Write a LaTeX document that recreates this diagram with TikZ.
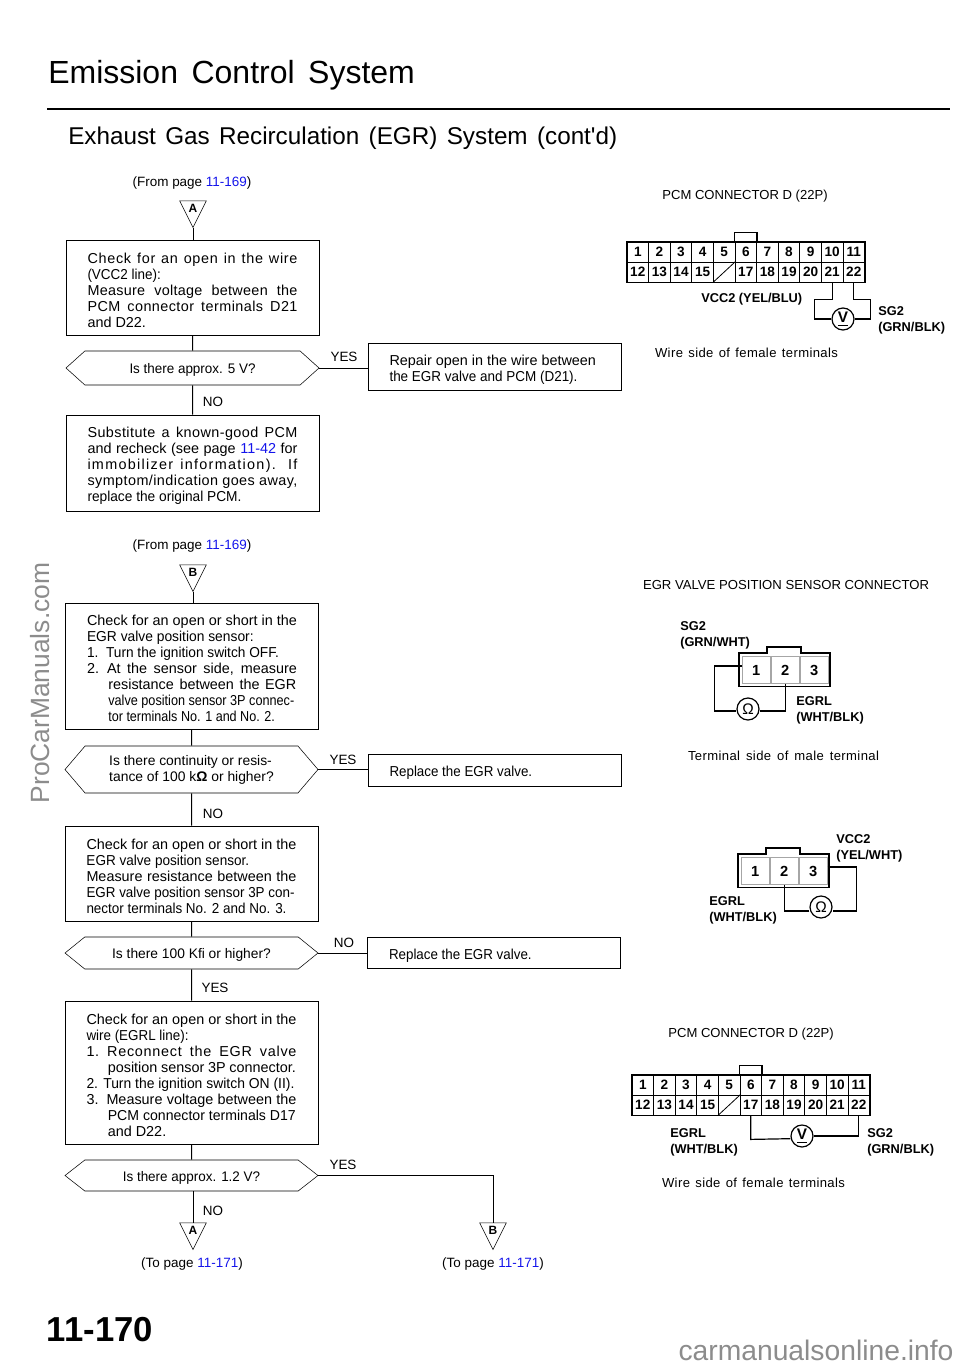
\documentclass[tikz,border=0pt]{standalone}
\usepackage{fontspec}
\setmainfont{Liberation Sans}
\newfontfamily\plainfont{Liberation Sans}
\usepackage{graphicx}
\usetikzlibrary{shapes.geometric,shapes.symbols,positioning}
\definecolor{linkblue}{RGB}{20,20,235}
\definecolor{markgray}{RGB}{140,140,140}
\newcommand{\jline}[1]{\makebox[157.5pt][s]{#1}}
\newcommand{\wline}[2]{\makebox[157.5pt][s]{\addfontfeature{LetterSpace=#1}#2}}
\newcommand{\iline}[1]{\hspace*{16pt}\makebox[141pt][s]{#1}}
\newcommand{\squeeze}[2]{\resizebox{#1}{\height}{#2}}
\newcommand{\plink}[1]{\textcolor{linkblue}{#1}}

\tikzset{
    every node/.style={font=\fontsize{10.8}{12}\selectfont, inner sep=0pt},
    small/.style={font=\fontsize{10.1}{12}\selectfont},
    stepbox/.style={draw, minimum width=189.75pt, text width=157.5pt, align=flush left,
        execute at begin node=\rule{0pt}{12pt}},
    resultbox/.style={draw, minimum width=189.75pt, text width=157.5pt, align=flush left,
        execute at begin node=\rule{0pt}{12pt}},
    question/.style={draw, signal, signal to=east and west, minimum width=189.75pt, align=flush left,
        font=\fontsize{10.4}{12}\selectfont, execute at begin node=\rule{0pt}{11pt}},
    marker/.style={draw, isosceles triangle, isosceles triangle apex angle=54,
        isosceles triangle stretches, shape border rotate=-90, minimum width=20pt, minimum height=20pt,
        font=\fontsize{9}{9}\selectfont\bfseries},
    flow/.style={line width=0.75pt},
    wire/.style={line width=0.9pt},
    caption/.style={font=\fontsize{9.8}{12}\selectfont},
    wirelabel/.style={font=\fontsize{9.6}{11.5}\selectfont\bfseries, anchor=base west},
    cell/.style={draw, line width=0.6pt, minimum width=16.2pt, minimum height=15pt, font=\fontsize{10.2}{10}\selectfont\bfseries},
    slot/.style={draw=gray!70, line width=0.5pt, minimum width=21.2pt, minimum height=20pt, font=\fontsize{11}{10}\selectfont\bfseries},
    meter/.style={draw, circle, line width=0.9pt, fill=white, minimum size=16.5pt, font=\fontsize{11.5}{10}\selectfont},
    pcmconn/.pic={
        \foreach \n [count=\i from 0] in {1,...,11} {
            \node[cell] (-p\n) at (10.8+21.6*\i,10) {\n};
        }
        \foreach \n [count=\i from 0] in {12,13,14,15,16,17,18,19,20,21,22} {
            \ifnum\n=16
                \node[cell] (-p\n) at (10.8+21.6*\i,30) {};
            \else
                \node[cell] (-p\n) at (10.8+21.6*\i,30) {\n};
            \fi
        }
        \draw[line width=0.6pt] (-p16.south west) -- (-p16.north east);
        \draw[line width=1.2pt] (-p1.north west) rectangle (-p22.south east);
        \draw[line width=1.0pt] (-p6.north west) -- ++(0,-9) -| (-p6.north east);
    },
    sensorconn/.pic={
        \node[slot] (-p1) at (17.3,17) {1};
        \node[slot, right=0pt of -p1] (-p2) {2};
        \node[slot, right=0pt of -p2] (-p3) {3};
        \draw[line width=0.9pt] (0,0) -- (28,0) -- (28,-6) -- (62,-6) -- (62,0) -- (91,0) -- (91,33.5) -- (0,33.5) -- cycle;
    }
}

\begin{document}
\begin{tikzpicture}[x=0.75pt,y=-0.75pt]
\useasboundingbox (0,0) rectangle (960,1367);

% Headings
\node[font=\fontsize{24}{28}\selectfont, anchor=base west] (title) at (48,83) {\makebox[275pt][s]{Emission Control System}};
\coordinate (ruleL) at (47,109);
\coordinate (ruleR) at (950,109);
\draw[line width=2.2pt] (ruleL) -- (ruleR);
\node[font=\fontsize{18.2}{22}\selectfont, anchor=base west] (subtitle) at (68,144) {\makebox[411.75pt][s]{Exhaust Gas Recirculation (EGR) System (cont{\plainfont'}d)}};

% First flow
\node[small] (fromA) at (192,183) {(From page \plink{11-169})};
\node[marker] (markA) at (193,208) {A};
\node[stepbox] (wireCheck) at (192.5,287.5) [minimum height=71.25pt] {%
    \wline{5}{Check for an open in the wire}\\
    \squeeze{55pt}{(VCC2 line):}\\
    \wline{2}{Measure voltage between the}\\
    \wline{3}{PCM connector terminals D21}\\
    and D22.};
\node[question, minimum height=25.5pt, signal pointer angle=84] (ask5v) at (192.5,368) {\squeeze{94.5pt}{Is there approx. 5 V?}};
\node[resultbox, minimum height=35.25pt] (repairWire) at (494.5,366.5) {Repair open in the wire between\\\squeeze{141pt}{the EGR valve and PCM (D21).}};
\node[stepbox, minimum height=72pt] (substitute) at (192.5,463) {%
    \wline{3}{Substitute a known-good PCM}\\
    \jline{and recheck (see page \plink{11-42} for}\\
    \wline{9}{immobilizer information). If}\\
    \wline{3}{symptom/indication goes away,}\\
    \squeeze{115.5pt}{replace the original PCM.}};
\node[small] (yes1) at (344,357) {YES};
\node[small] (no1) at (213,402) {NO};

\draw[flow] (markA.apex) -- (wireCheck.north -| markA.apex);
\draw[flow] (wireCheck) -- (ask5v);
\draw[flow] (ask5v.east) -- (repairWire.west |- ask5v.east);
\draw[flow] (ask5v) -- (substitute);

% Second flow
\node[small] (fromB) at (192,546) {(From page \plink{11-169})};
\node[marker] (markB) at (193,572) {B};
\node[stepbox, minimum height=94.5pt] (sensorCheck) at (192,666) {%
    \jline{Check for an open or short in the}\\
    \squeeze{125pt}{EGR valve position sensor:}\\
    \squeeze{144pt}{1.\hspace{6pt}Turn the ignition switch OFF.}\\
    \jline{2.\hspace{6pt}At the sensor side, measure}\\
    \iline{resistance between the EGR}\\
    \hspace*{16pt}\squeeze{139.5pt}{valve position sensor 3P connec-}\\
    \hspace*{16pt}\squeeze{125pt}{tor terminals No. 1 and No. 2.}};
\node[question, minimum height=35.25pt, signal pointer angle=99] (askCont) at (191.5,769.5) {%
    Is there continuity or resis-\hspace{9pt}\\tance of 100 k\textbf{Ω} or higher?};
\node[resultbox, minimum height=24pt] (replaceA) at (494.5,770) {\squeeze{107pt}{Replace the EGR valve.}};
\node[small] (yes2) at (343,760) {YES};
\node[small] (no2) at (213,814) {NO};
\node[stepbox, minimum height=71.25pt] (sensorCheckB) at (191.5,873.5) {%
    \jline{Check for an open or short in the}\\
    \squeeze{122pt}{EGR valve position sensor.}\\
    \jline{Measure resistance between the}\\
    \squeeze{156pt}{EGR valve position sensor 3P con-}\\
    \squeeze{150pt}{nector terminals No. 2 and No. 3.}};
\node[question, minimum height=24pt, signal pointer angle=78] (ask100) at (191.5,953) {\squeeze{119pt}{Is there 100 Kfi or higher?}};
\node[resultbox, minimum height=23.25pt] (replaceB) at (494,952.5) {\squeeze{107pt}{Replace the EGR valve.}};
\node[small] (no3) at (344,943) {NO};
\node[small] (yes3) at (215,988) {YES};
\node[stepbox, minimum height=107.25pt] (egrlCheck) at (191.5,1072.5) {%
    \jline{Check for an open or short in the}\\
    \squeeze{76.5pt}{wire (EGRL line):}\\
    \wline{5}{1.\hspace{6pt}Reconnect the EGR valve}\\
    \iline{position sensor 3P connector.}\\
    \squeeze{156pt}{2.\hspace{4pt}Turn the ignition switch ON (II).}\\
    \jline{3.\hspace{6pt}Measure voltage between the}\\
    \hspace*{16pt}\squeeze{141pt}{PCM connector terminals D17}\\
    \hspace*{16pt}and D22.};
\node[question, minimum height=23.25pt, signal pointer angle=76] (ask12v) at (191.5,1175.5) {\squeeze{103pt}{Is there approx. 1.2 V?}};
\node[small] (yes4) at (343,1165) {YES};
\node[small] (no4) at (213,1211) {NO};
\node[marker] (toA) at (193,1230) {A};
\node[marker] (toB) at (493,1230) {B};
\node[small] (pageA) at (192,1264) {(To page \plink{11-171})};
\node[small] (pageB) at (493,1264) {(To page \plink{11-171})};

\draw[flow] (markB.apex) -- (sensorCheck.north -| markB.apex);
\draw[flow] (sensorCheck) -- (askCont);
\draw[flow] (askCont.east) -- (replaceA.west |- askCont.east);
\draw[flow] (askCont) -- (sensorCheckB);
\draw[flow] (sensorCheckB) -- (ask100);
\draw[flow] (ask100.east) -- (replaceB.west |- ask100.east);
\draw[flow] (ask100) -- (egrlCheck);
\draw[flow] (egrlCheck) -- (ask12v);
\draw[flow] (ask12v.south -| toA.lower side) -- (toA.lower side);
\draw[flow] (ask12v.east) -| (toB.lower side);

% Right column captions
\node[caption] (capPcmA) at (745,196) {PCM CONNECTOR D (22P)};
\node[caption] (capWireA) at (746.5,353) {\makebox[137.25pt][s]{\addfontfeature{LetterSpace=3}Wire side of female terminals}};
\node[caption] (capEgr) at (786,585) {\squeeze{214.5pt}{EGR VALVE POSITION SENSOR CONNECTOR}};
\node[caption] (capTerm) at (783.5,756) {\makebox[143.25pt][s]{\addfontfeature{LetterSpace=3}Terminal side of male terminal}};
\node[caption] (capPcmB) at (751,1034) {PCM CONNECTOR D (22P)};
\node[caption] (capWireB) at (753.5,1183) {\makebox[137.25pt][s]{\addfontfeature{LetterSpace=3}Wire side of female terminals}};

% PCM connector, voltage at D21 and D22
\pic (conA) at (627,242) {pcmconn};
\node[meter] (voltA) at (843,319) {\textbf{\underline{V}}};
\draw[wire] (conA-p21.south) -- ++(0,17) -- ++(-18,0) |- (voltA.west);
\draw[wire] (conA-p22.south) -- ++(0,17) -- ++(17,0) |- (voltA.east);
\node[wirelabel] (labVcc) at (701,302) {VCC2 (YEL/BLU)};
\node[wirelabel, align=left] (labSgA) at (878,331) {SG2\\(GRN/BLK)};

% Sensor connector, terminals 1 and 2
\pic (conB) at (739,653) {sensorconn};
\node[meter] (ohmB) at (748,709) {Ω};
\draw[wire] ([yshift=3pt]conB-p1.west) -| ([xshift=-16.5pt,yshift=-1.5pt]ohmB.west) -- ([yshift=-1.5pt]ohmB.west);
\draw[wire] ([yshift=-1.5pt]ohmB.east) -| (conB-p2.south);
\node[wirelabel, align=left] (labSgB) at (680,646) {SG2\\(GRN/WHT)};
\node[wirelabel, align=left] (labEgrlB) at (796,721) {EGRL\\(WHT/BLK)};

% Sensor connector, terminals 2 and 3
\pic (conC) at (738,854) {sensorconn};
\node[meter] (ohmC) at (821,907) {Ω};
\draw[wire] ([yshift=3pt]conC-p3.east) -| ([xshift=18pt,yshift=-3pt]ohmC.east) -- ([yshift=-3pt]ohmC.east);
\draw[wire] ([yshift=-3pt]ohmC.west) -| (conC-p2.south);
\node[wirelabel, align=left] (labVccC) at (836,859) {VCC2\\(YEL/WHT)};
\node[wirelabel, align=left] (labEgrlC) at (709,921) {EGRL\\(WHT/BLK)};

% PCM connector, voltage at D17 and D22
\pic (conD) at (632,1075) {pcmconn};
\node[meter] (voltD) at (802,1136) {\textbf{\underline{V}}};
\draw[wire] (conD-p17.south) -- ++(0,24) -- ([yshift=-2pt]voltD.west);
\draw[wire] (conD-p22.south) |- (voltD.east);
\node[wirelabel, align=left] (labEgrlD) at (670,1153) {EGRL\\(WHT/BLK)};
\node[wirelabel, align=left] (labSgD) at (867,1153) {SG2\\(GRN/BLK)};

% Page number and marks
\node[font=\fontsize{26}{28}\selectfont\bfseries] (pageNo) at (100,1330) {11-170};
\node[text=markgray, rotate=90, font=\fontsize{19.8}{22}\selectfont] (sideMark) at (40,683) {ProCarManuals.com};
\node[text=markgray, font=\fontsize{21.2}{24}\selectfont] (footMark) at (816,1350) {carmanualsonline.info};
\end{tikzpicture}
\end{document}
